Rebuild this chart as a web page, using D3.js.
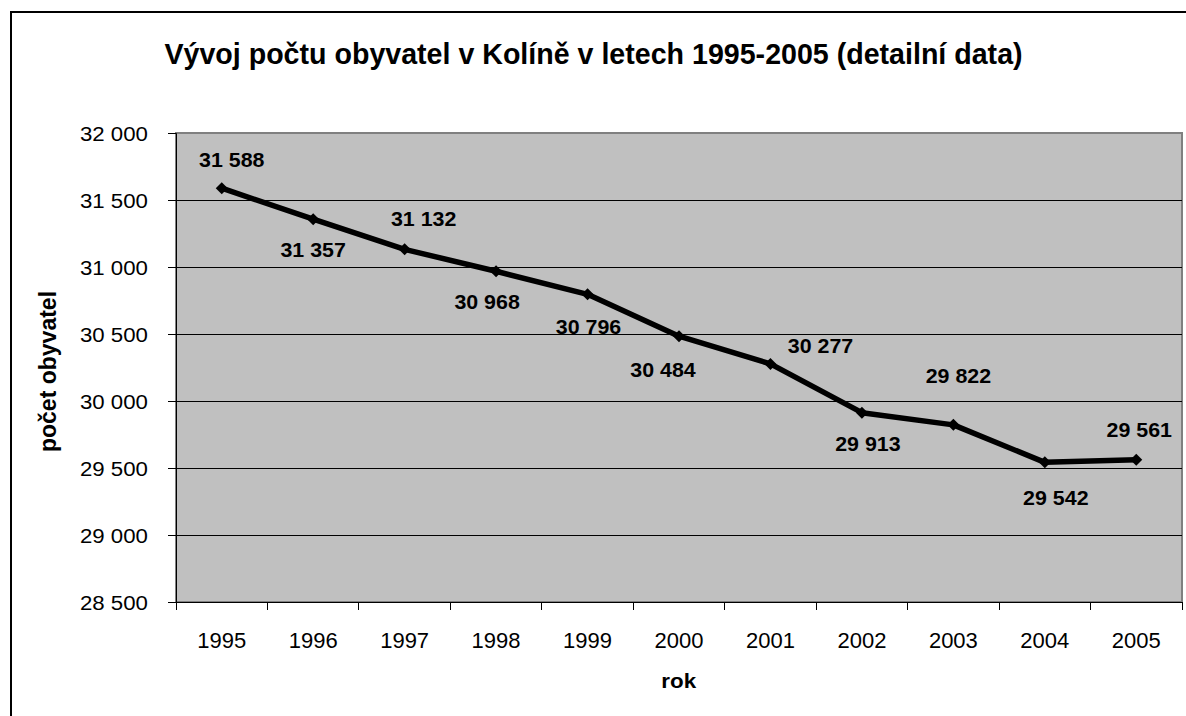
<!DOCTYPE html>
<html><head><meta charset="utf-8">
<script src="https://cdn.jsdelivr.net/npm/d3@7"></script>
<style>
html,body{margin:0;padding:0;background:#fff;}
svg{display:block;}
text{font-family:"Liberation Sans",Arial,sans-serif;fill:#000;}
</style></head>
<body>
<svg id="chart" width="1186" height="716"></svg>
<script>
const years = ["1995","1996","1997","1998","1999","2000","2001","2002","2003","2004","2005"];
const population = [31588,31357,31132,30968,30796,30484,30277,29913,29822,29542,29561];
const yTicks = [28500,29000,29500,30000,30500,31000,31500,32000];
const titleText = "Vývoj počtu obyvatel v Kolíně v letech 1995-2005 (detailní data)";
const xTitle = "rok";
const yTitle = "počet obyvatel";
// manual label placement (offset of label centre/baseline from its point)
const labelOffsets = [[10,-21.5],[0,38],[19,-23],[-9,38],[1,40],[-16,41],[50,-10.5],[6,38],[5,-42],[11,43],[3,-23]];

const locale = d3.formatLocale({decimal:",",thousands:"\u00a0",grouping:[3],currency:["",""]});
const fmt = locale.format(",d");

const svg = d3.select("#chart");
const plot = {left:176, right:1182, top:133, bottom:602};

// outer frame
svg.append("rect").attr("x",11).attr("y",12).attr("width",1300).attr("height",800)
  .attr("fill","#fff").attr("stroke","#000").attr("stroke-width",2);

const x = d3.scaleBand().domain(years).range([plot.left,plot.right]).padding(0);
const y = d3.scaleLinear().domain([28500,32000]).range([plot.bottom,plot.top]);

// plot background
svg.append("rect").attr("x",plot.left).attr("y",plot.top)
  .attr("width",plot.right-plot.left).attr("height",plot.bottom-plot.top)
  .attr("fill","#c0c0c0").attr("stroke","#808080").attr("stroke-width",2);

// gridlines
svg.append("g").selectAll("line").data(yTicks.filter(d=>d>28500 && d<32000)).join("line")
  .attr("x1",plot.left).attr("x2",plot.right)
  .attr("y1",d=>y(d)).attr("y2",d=>y(d))
  .attr("stroke","#000").attr("stroke-width",1).attr("shape-rendering","crispEdges");

// y axis
const yAxis = d3.axisLeft(y).tickValues(yTicks).tickFormat(fmt).tickSize(8).tickPadding(20);
const gy = svg.append("g").attr("transform",`translate(${plot.left},0)`).call(yAxis);
gy.select(".domain").attr("stroke","#000").attr("stroke-width",1);
gy.selectAll(".tick line").attr("stroke","#000");
gy.selectAll(".tick text").style("font-size","21px").attr("font-family",null)
  .attr("x",null).attr("dy",null)
  .attr("dominant-baseline","central")
  .attr("transform","translate(-28,0) scale(1.06,1)");

// x axis
const xAxis = d3.axisBottom(x).tickSize(0).tickPadding(30);
const gx = svg.append("g").attr("transform",`translate(0,${plot.bottom})`).call(xAxis);
gx.select(".domain").attr("stroke","#000").attr("stroke-width",1);
gx.selectAll(".tick text").style("font-size","22px").attr("font-family",null)
  .attr("y",45.7).attr("dy",null);
// x tick marks at category boundaries
const bounds = years.map(d=>x(d)).concat([x(years[years.length-1])+x.bandwidth()]);
svg.append("g").selectAll("line").data(bounds).join("line")
  .attr("x1",d=>d).attr("x2",d=>d).attr("y1",plot.bottom).attr("y2",plot.bottom+8)
  .attr("stroke","#000").attr("stroke-width",1).attr("shape-rendering","crispEdges");

// line
const cx = d=>x(d)+x.bandwidth()/2;
const pts = years.map((yr,i)=>[cx(yr), y(population[i])]);
svg.append("path").attr("d",d3.line()(pts)).attr("fill","none")
  .attr("stroke","#000").attr("stroke-width",5.5).attr("stroke-linejoin","round");
svg.append("g").selectAll("path").data(pts).join("path")
  .attr("d",d3.symbol(d3.symbolSquare, 72)())
  .attr("transform",d=>`translate(${d[0]},${d[1]}) rotate(45)`)
  .attr("fill","#000");

// data labels
svg.append("g").selectAll("text").data(population).join("text")
  .attr("transform",(d,i)=>`translate(${pts[i][0]+labelOffsets[i][0]},${pts[i][1]+labelOffsets[i][1]}) scale(1.07,1)`)
  .attr("text-anchor","middle").style("font-size","20px").style("font-weight","bold")
  .text(d=>fmt(d));

// title
svg.append("text").attr("transform","translate(593.5,64)")
  .attr("text-anchor","middle").style("font-size","28.6px").style("font-weight","bold")
  .text(titleText);

// x title
svg.append("text").attr("transform","translate(678.7,687.7) scale(1.12,1)")
  .attr("text-anchor","middle").style("font-size","20px").style("font-weight","bold")
  .text(xTitle);

// y title
svg.append("text").attr("transform","translate(56,371.5) rotate(-90)")
  .attr("text-anchor","middle").style("font-size","23px").style("font-weight","bold")
  .text(yTitle);
</script>
</body></html>
